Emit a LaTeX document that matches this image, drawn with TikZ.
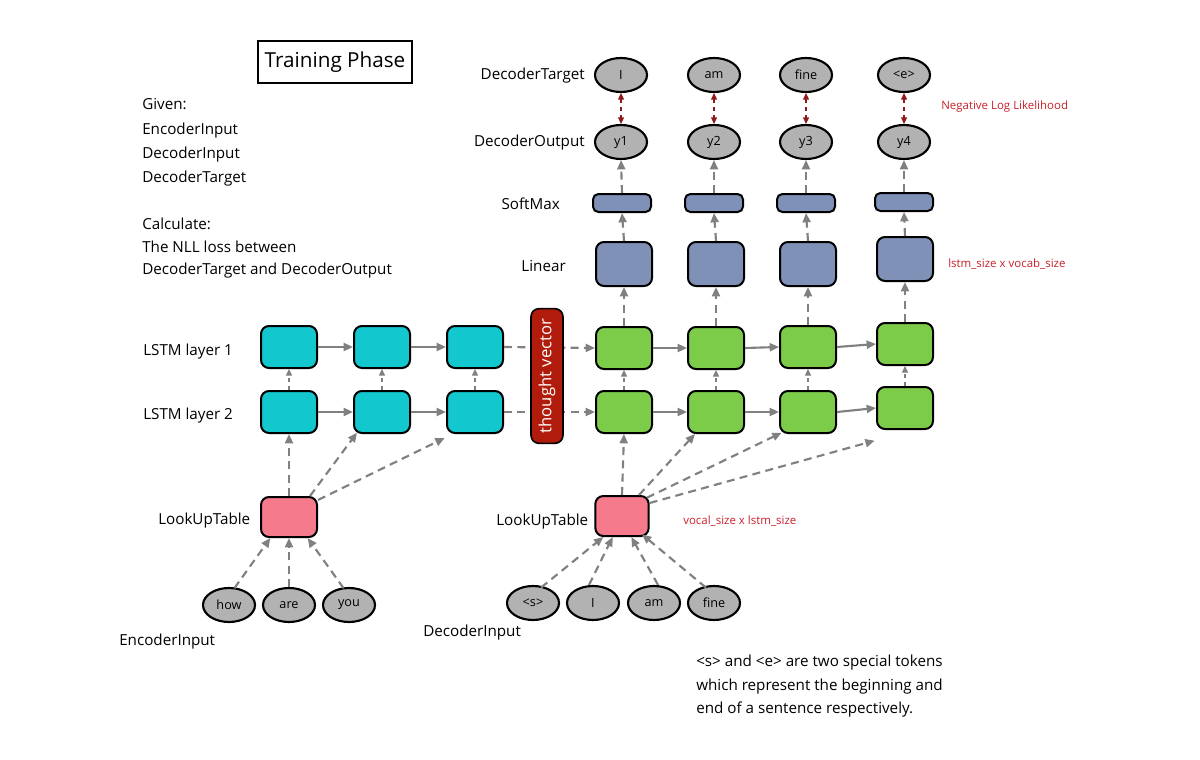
\documentclass[tikz,border=0pt]{standalone}
\usepackage{fontspec}
\setmainfont{Open Sans}
\usetikzlibrary{arrows.meta,shapes.geometric}
\definecolor{cyanbox}{HTML}{12C8CE}
\definecolor{greenbox}{HTML}{7CCC4A}
\definecolor{bluebox}{HTML}{7F91B6}
\definecolor{pinkbox}{HTML}{F47A8C}
\definecolor{tokgray}{HTML}{B2B2B2}
\definecolor{tvred}{HTML}{B11B0B}
\definecolor{redtxt}{HTML}{C8202A}
\definecolor{darkred}{HTML}{8E1A1E}
\definecolor{arrgray}{HTML}{808080}
\tikzset{
  box/.style={draw=black, line width=1.5pt, rounded corners=6pt, minimum width=42pt, minimum height=31.5pt, inner sep=0pt},
  encbox/.style={box, fill=cyanbox},
  decbox/.style={box, fill=greenbox},
  linbox/.style={box, fill=bluebox, minimum height=33pt},
  softbox/.style={box, fill=bluebox, minimum width=43.5pt, minimum height=13.5pt, rounded corners=4pt},
  lutbox/.style={box, fill=pinkbox, minimum height=30pt},
  tok/.style={ellipse, draw=black, line width=1.6pt, fill=tokgray, minimum width=39pt, minimum height=25.5pt, inner sep=0pt, font=\fontsize{9.5}{11}\selectfont},
  lbl/.style={font=\fontsize{11.4}{13}\selectfont, inner sep=0pt},
  redlbl/.style={font=\fontsize{8.6}{10}\selectfont, text=redtxt, inner sep=0pt},
  solidarr/.style={draw=arrgray, line width=1.6pt, -{Triangle[length=7pt,width=6pt]}},
  dasharr/.style={draw=arrgray, line width=1.6pt, dash pattern=on 6pt off 4pt, -{Triangle[length=7pt,width=6pt]}},
  smalldash/.style={draw=arrgray, line width=1pt, dash pattern=on 3pt off 3pt, -{Triangle[length=5pt,width=4.5pt]}},
  nllarr/.style={draw=darkred, line width=1.1pt, dash pattern=on 3pt off 3pt, {Triangle[length=5pt,width=4.5pt]}-{Triangle[length=5pt,width=4.5pt]}}
}
\begin{document}
\begin{tikzpicture}[x=0.75pt, y=-0.75pt]
\path[use as bounding box] (0,0) rectangle (1200,760);

% title
\node[draw=black, line width=1.5pt, minimum width=115pt, minimum height=31pt, font=\fontsize{15.5}{18}\selectfont] (title) at (335,62) {Training Phase};

% given text
\node[lbl, anchor=west] (g1) at (142,104) {Given:};
\node[lbl, anchor=west] (g2) at (142,131) {EncoderInput};
\node[lbl, anchor=west] (g3) at (142,155) {DecoderInput};
\node[lbl, anchor=west] (g4) at (142,179) {DecoderTarget};
\node[lbl, anchor=west] (c1) at (142,224) {Calculate:};
\node[lbl, anchor=west] (c2) at (142,247) {The NLL loss between};
\node[lbl, anchor=west] (c3) at (142,271) {DecoderTarget and DecoderOutput};

% row labels
\node[lbl, anchor=east] (lDT) at (585,76) {DecoderTarget};
\node[lbl, anchor=east] (lDO) at (585,143) {DecoderOutput};
\node[lbl, anchor=east] (lSM) at (560,204) {SoftMax};
\node[lbl, anchor=east] (lLin) at (566,266) {Linear};
\node[lbl, anchor=west] (lL1) at (143,352) {LSTM layer 1};
\node[lbl, anchor=west] (lL2) at (143,416) {LSTM layer 2};
\node[lbl, anchor=west] (lLE) at (158,521) {LookUpTable};
\node[lbl, anchor=west] (lEI) at (119,642) {EncoderInput};
\node[lbl, anchor=west] (lLD) at (496,522) {LookUpTable};
\node[lbl, anchor=west] (lDI) at (423,633) {DecoderInput};

% red notes
\node[redlbl, anchor=west] (nll) at (941,107) {Negative Log Likelihood};
\node[redlbl, anchor=west] (lvs) at (948,264) {lstm\_size x vocab\_size};
\node[redlbl, anchor=west] (vls) at (683,521) {vocal\_size x lstm\_size};

% note
\node[lbl, anchor=west] (n1) at (696,663) {<s> and <e> are two special tokens};
\node[lbl, anchor=west] (n2) at (696,687) {which represent the beginning and};
\node[lbl, anchor=west] (n3) at (696,710) {end of a sentence respectively.};

% target / output tokens
\node[tok] (t1) at (621,75) {I};
\node[tok] (t2) at (714,75) {am};
\node[tok] (t3) at (806,75) {fine};
\node[tok] (t4) at (904,75) {<e>};
\node[tok] (y1) at (621,142) {y1};
\node[tok] (y2) at (714,142) {y2};
\node[tok] (y3) at (806,142) {y3};
\node[tok] (y4) at (904,142) {y4};

% softmax
\node[softbox] (s1) at (622,203) {};
\node[softbox] (s2) at (714,203) {};
\node[softbox] (s3) at (806,203) {};
\node[softbox] (s4) at (904,202) {};

% linear
\node[linbox] (li1) at (624,264) {};
\node[linbox] (li2) at (716,264) {};
\node[linbox] (li3) at (808,264) {};
\node[linbox] (li4) at (905,259) {};

% encoder LSTM
\node[encbox] (e11) at (289,347) {};
\node[encbox] (e12) at (382,347) {};
\node[encbox] (e13) at (475,347) {};
\node[encbox] (e21) at (289,412) {};
\node[encbox] (e22) at (382,412) {};
\node[encbox] (e23) at (475,412) {};

% decoder LSTM
\node[decbox] (d11) at (624,348) {};
\node[decbox] (d12) at (716,348) {};
\node[decbox] (d13) at (808,347) {};
\node[decbox] (d14) at (905,344) {};
\node[decbox] (d21) at (624,412) {};
\node[decbox] (d22) at (716,412) {};
\node[decbox] (d23) at (808,412) {};
\node[decbox] (d24) at (905,408) {};

% lookup tables
\node[lutbox] (lutE) at (289,517) {};
\node[lutbox, minimum width=40pt] (lutD) at (622,516) {};

% input tokens
\node[tok] (how) at (229,605) {how};
\node[tok] (are) at (289,605) {are};
\node[tok] (you) at (349,605) {you};
\node[tok] (ds) at (533,603) {<s>};
\node[tok] (dI) at (593,603) {I};
\node[tok] (dam) at (654,603) {am};
\node[tok] (dfine) at (714,603) {fine};

% NLL arrows
\foreach \i in {1,2,3,4} {
  \draw[nllarr] (t\i.south) -- (y\i.north);
}
% softmax -> output, linear -> softmax, lstm -> linear
\foreach \i in {1,2,3,4} {
  \draw[dasharr] (s\i.north) -- (y\i.south);
  \draw[dasharr] (li\i.north) -- (s\i.south);
  \draw[dasharr] (d1\i.north) -- (li\i.south);
  \draw[smalldash] (d2\i.north) -- (d1\i.south);
}
\foreach \i in {1,2,3} {
  \draw[smalldash] (e2\i.north) -- (e1\i.south);
}
% horizontal encoder
\draw[solidarr] (e11.east) -- (e12.west);
\draw[solidarr] (e12.east) -- (e13.west);
\draw[solidarr] (e21.east) -- (e22.west);
\draw[solidarr] (e22.east) -- (e23.west);
% horizontal decoder
\draw[solidarr] (d11.east) -- (d12.west);
\draw[solidarr] (d12.east) -- (d13.west);
\draw[solidarr] (d13.east) -- (d14.west);
\draw[solidarr] (d21.east) -- (d22.west);
\draw[solidarr] (d22.east) -- (d23.west);
\draw[solidarr] (d23.east) -- (d24.west);
% thought vector links
\draw[dasharr] (e13.east) -- (d11.west);
\draw[dasharr] (e23.east) -- (d21.west);

% encoder lookup -> layer 2
\draw[dasharr] (lutE.north) -- (e21.south);
\draw[dasharr] ([xshift=-6pt]lutE.north east) -- ([xshift=3pt,yshift=1pt]e22.south west);
\draw[dasharr] ([yshift=-3pt]lutE.north east) -- ([xshift=-1pt,yshift=-3pt]e23.south west);
% decoder lookup -> layer 2
\draw[dasharr] (lutD.north) -- (d21.south);
\draw[dasharr] ([xshift=-8pt]lutD.north east) -- ([xshift=6pt]d22.south west);
\draw[dasharr] ([xshift=-2pt,yshift=-2pt]lutD.north east) -- ([xshift=2pt,yshift=1pt]d23.south west);
\draw[dasharr] ([yshift=-6pt]lutD.north east) -- ([xshift=-1pt,yshift=-8pt]d24.south west);

% inputs -> lookup
\draw[dasharr] ([xshift=4pt,yshift=-1pt]how.north) -- ([xshift=-14pt]lutE.south);
\draw[dasharr] (are.north) -- (lutE.south);
\draw[dasharr] ([xshift=-4pt,yshift=-1pt]you.north) -- ([xshift=14pt]lutE.south);
\draw[dasharr] ([xshift=6pt,yshift=-2pt]ds.north) -- ([xshift=-14pt]lutD.south);
\draw[dasharr] ([xshift=-3pt]dI.north) -- ([xshift=-7pt]lutD.south);
\draw[dasharr] ([xshift=3pt]dam.north) -- ([xshift=7pt]lutD.south);
\draw[dasharr] ([xshift=-6pt,yshift=-2pt]dfine.north) -- ([xshift=15pt,yshift=2pt]lutD.south);

% thought vector
\node[draw=black, line width=1.2pt, fill=tvred, rounded corners=6pt, rotate=90, minimum width=101pt, minimum height=24pt, inner sep=0pt, text=white, font=\fontsize{12.5}{14}\selectfont] (tv) at (547,376) {thought vector};
\end{tikzpicture}
\end{document}
